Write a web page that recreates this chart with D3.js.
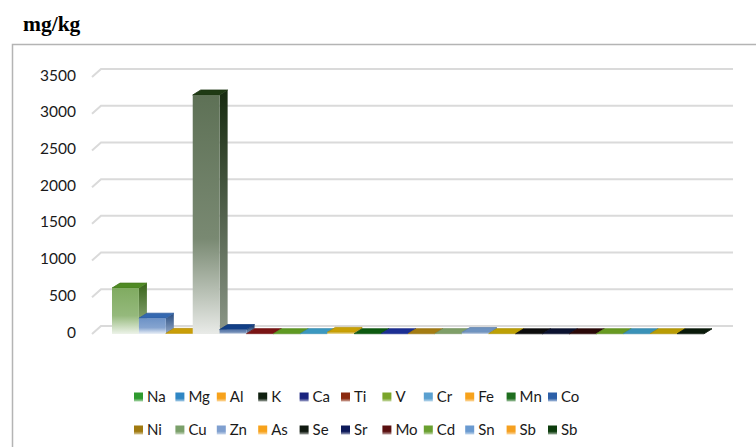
<!DOCTYPE html>
<html>
<head>
<meta charset="utf-8">
<script src="https://cdn.jsdelivr.net/npm/d3@7"></script>
<style>
  body { margin: 0; background: #fff; }
  svg { display: block; }
</style>
</head>
<body>
<div id="chart"></div>
<script>
// element series (one category), mg/kg
var elements = ["Na", "Mg", "Al", "K", "Ca", "Ti", "V", "Cr", "Fe", "Mn", "Co",
                "Ni", "Cu", "Zn", "As", "Se", "Sr", "Mo", "Cd", "Sn", "Sb", "Sb"];
var values = [625, 215, 8, 3255, 60, 5, 4, 5, 22, 4, 4,
              4, 5, 20, 5, 3, 3, 3, 4, 4, 4, 3];
var colors = ["#4f8a24", "#3468b0", "#c99e08", "#1f3a14", "#123f86", "#7a1414", "#5f9a22", "#3b98c0", "#c9a004", "#0d5a10", "#1c2f94",
              "#a47c12", "#7f9f68", "#6f93c0", "#bda004", "#0c0c0c", "#0b1230", "#2a0808", "#689a22", "#3a92b8", "#b99c04", "#0a1a0a"];
var legendColors = ["#2f9a2f", "#2f86c4", "#f7a21b", "#102010", "#1a237e", "#8b2a10", "#7aa52a", "#5aa0d0", "#f7a21b", "#1e6e1e", "#2c5fa8",
                    "#a07a10", "#7aa06a", "#7f9fcf", "#f7a21b", "#101a10", "#0d1a5a", "#5a1010", "#6aa030", "#6a9ad0", "#f5a020", "#0d3d0d"];
var yTicks = [0, 500, 1000, 1500, 2000, 2500, 3000, 3500];

var w = 756, h = 447;

var svg = d3.select("#chart").append("svg")
  .attr("width", w)
  .attr("height", h);

svg.append("rect").attr("width", w).attr("height", h).attr("fill", "#fff");

// outer frame (runs off the right and bottom edges)
svg.append("rect")
  .attr("x", 12.5).attr("y", 44.5)
  .attr("width", 800).attr("height", 500)
  .attr("fill", "none")
  .attr("stroke", "#b4b4b4")
  .attr("stroke-width", 1.5);

svg.append("text")
  .attr("x", 23).attr("y", 31)
  .attr("font-family", "'Liberation Serif', 'Times New Roman', serif")
  .attr("font-weight", "bold")
  .attr("font-size", 21.5)
  .attr("fill", "#000")
  .text("mg/kg");

var yscale = d3.scaleLinear().domain([0, 3500]).range([334, 77]);
var xscale = d3.scaleBand().domain(d3.range(elements.length)).range([112, 704]).padding(0);

// back wall gridlines
var wallDx = 9, wallDy = -8;
var grid = svg.append("g");
yTicks.forEach(function(v) {
  var y = yscale(v);
  grid.append("path")
    .attr("d", "M92," + y + "L" + (92 + wallDx) + "," + (y + wallDy) + "L733," + (y + wallDy))
    .attr("fill", "none")
    .attr("stroke", "#dadada")
    .attr("stroke-width", 2);
});

// y axis labels
svg.append("g").selectAll("text")
  .data(yTicks)
  .enter().append("text")
  .attr("x", 76)
  .attr("y", function(d) { return yscale(d) - 2; })
  .attr("dy", "0.36em")
  .attr("text-anchor", "end")
  .attr("font-family", "Lato, 'Open Sans', sans-serif")
  .attr("font-size", 15.5)
  .attr("fill", "#1a1a1a")
  .text(function(d) { return d; });

// gradients
var defs = svg.append("defs");
colors.forEach(function(c, i) {
  var g = defs.append("linearGradient")
    .attr("id", "front" + i)
    .attr("x1", 0).attr("y1", 0).attr("x2", 0).attr("y2", 1);
  g.append("stop").attr("offset", "0%").attr("stop-color", d3.interpolateRgb(c, "#fff")(0.28));
  g.append("stop").attr("offset", "60%").attr("stop-color", d3.interpolateRgb(c, "#fff")(0.4));
  g.append("stop").attr("offset", "100%").attr("stop-color", d3.interpolateRgb(c, "#fff")(0.9));
  var s = defs.append("linearGradient")
    .attr("id", "side" + i)
    .attr("x1", 0).attr("y1", 0).attr("x2", 0).attr("y2", 1);
  s.append("stop").attr("offset", "0%").attr("stop-color", d3.color(c).darker(0.9));
  s.append("stop").attr("offset", "100%").attr("stop-color", d3.interpolateRgb(d3.color(c).darker(0.6), "#fff")(0.5));
  var l = defs.append("linearGradient")
    .attr("id", "leg" + i)
    .attr("x1", 0).attr("y1", 0).attr("x2", 0).attr("y2", 1);
  l.append("stop").attr("offset", "0%").attr("stop-color", legendColors[i]);
  l.append("stop").attr("offset", "65%").attr("stop-color", legendColors[i]);
  l.append("stop").attr("offset", "100%").attr("stop-color", d3.interpolateRgb(legendColors[i], "#fff")(0.6));
});

// 3d bars
var dx = 8, dy = -5;
var bars = svg.append("g").selectAll("g")
  .data(values)
  .enter().append("g");

bars.append("path")
  .attr("d", function(d, i) {
    var x1 = xscale(i) + xscale.bandwidth(), yt = yscale(d), yb = yscale(0);
    return "M" + x1 + "," + yt + "L" + (x1 + dx) + "," + (yt + dy) + "L" + (x1 + dx) + "," + (yb + dy) + "L" + x1 + "," + yb + "Z";
  })
  .attr("fill", function(d, i) { return "url(#side" + i + ")"; });

bars.append("path")
  .attr("d", function(d, i) {
    var x0 = xscale(i), x1 = x0 + xscale.bandwidth(), yt = yscale(d);
    return "M" + x0 + "," + yt + "L" + (x0 + dx) + "," + (yt + dy) + "L" + (x1 + dx) + "," + (yt + dy) + "L" + x1 + "," + yt + "Z";
  })
  .attr("fill", function(d, i) { return colors[i]; })
  .attr("stroke", function(d, i) { return d3.color(colors[i]).darker(0.3); })
  .attr("stroke-width", 0.8);

bars.append("rect")
  .attr("x", function(d, i) { return xscale(i); })
  .attr("y", function(d) { return yscale(d); })
  .attr("width", xscale.bandwidth())
  .attr("height", function(d) { return yscale(0) - yscale(d); })
  .attr("fill", function(d, i) { return "url(#front" + i + ")"; });

// legend, two rows
var legend = svg.append("g").selectAll("g")
  .data(elements)
  .enter().append("g")
  .attr("transform", function(d, i) {
    return "translate(" + (134 + (i % 11) * 41.4) + "," + (i < 11 ? 397 : 430) + ")";
  });

legend.append("rect")
  .attr("x", 0).attr("y", -4.5)
  .attr("width", 9).attr("height", 9)
  .attr("fill", function(d, i) { return "url(#leg" + i + ")"; });

legend.append("text")
  .attr("x", 13)
  .attr("y", 0)
  .attr("dy", "0.36em")
  .attr("font-family", "Lato, 'Open Sans', sans-serif")
  .attr("font-size", 15)
  .attr("fill", "#1a1a1a")
  .text(function(d) { return d; });
</script>
</body>
</html>
